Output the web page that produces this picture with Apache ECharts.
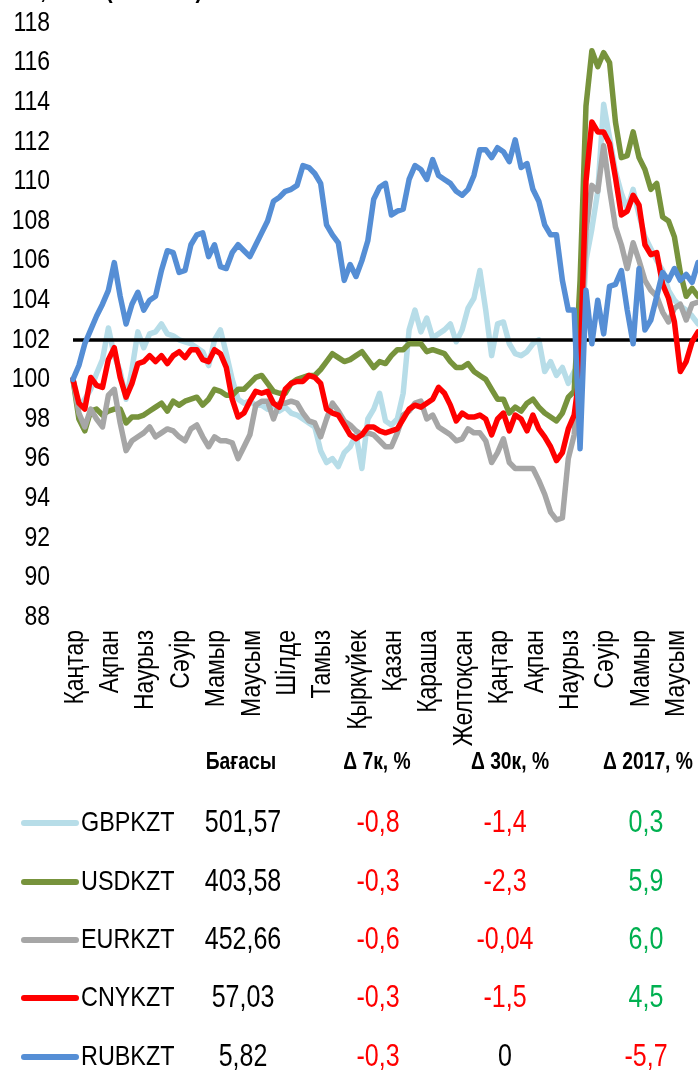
<!DOCTYPE html>
<html><head><meta charset="utf-8">
<script src="https://cdn.jsdelivr.net/npm/echarts@6/dist/echarts.min.js"></script>
<style>html,body{margin:0;padding:0;background:#fff}#c{width:698px;height:1071px}</style>
</head><body><div id="c"></div>
<script>
const monthLabels = ['Қаңтар','Ақпан','Наурыз','Сәуір','Мамыр','Маусым','Шілде','Тамыз','Қыркүйек','Қазан','Қараша','Желтоқсан','Қаңтар','Ақпан','Наурыз','Сәуір','Мамыр','Маусым'];
const yTickValues = [88,90,92,94,96,98,100,102,104,106,108,110,112,114,116,118];
const baseLine = 102;

const GBP = [100.0,98.6,99.0,99.5,100.3,101.0,102.6,101.2,100.4,99.0,100.5,102.4,101.6,102.3,102.4,102.8,102.3,102.2,102.0,101.9,101.8,101.6,101.4,100.7,102.0,102.5,101.3,100.0,99.0,98.8,98.9,98.7,98.7,98.5,98.7,98.4,98.6,98.3,98.2,98.0,97.8,97.6,96.4,95.8,96.0,95.6,96.3,96.6,97.2,95.5,98.0,98.5,99.3,97.9,97.7,98.0,99.3,102.5,103.5,102.4,103.1,102.1,102.3,102.5,102.8,101.9,102.5,103.6,104.1,105.5,103.5,101.2,102.8,102.9,101.8,101.3,101.2,101.4,101.8,102.0,100.4,100.9,100.2,100.6,99.8,100.4,100.8,106.0,107.6,109.5,113.9,112.2,110.5,109.4,108.6,109.6,108.3,107.2,106.6,106.0,105.5,104.5,104.0,103.7,103.5,103.2,102.8];
const USD = [100.0,98.0,97.4,98.4,98.5,98.2,98.4,98.5,98.5,97.8,98.1,98.1,98.2,98.4,98.6,98.8,98.4,98.9,98.7,98.9,99.0,99.1,98.7,99.0,99.5,99.4,99.2,99.2,99.5,99.5,99.8,100.1,100.2,99.8,99.4,99.3,99.3,99.8,100.0,100.1,100.2,100.2,100.5,100.9,101.3,101.1,100.9,101.0,101.2,101.4,101.0,100.6,100.9,100.8,101.2,101.5,101.5,101.8,101.8,101.8,101.4,101.5,101.4,101.3,100.9,100.6,100.6,100.8,100.4,100.2,100.0,99.5,99.0,99.0,98.3,98.6,98.4,98.8,99.0,98.6,98.3,98.1,97.9,98.3,99.1,99.4,105.0,113.8,116.6,115.8,116.5,116.0,113.0,111.2,111.3,112.5,111.2,110.6,109.6,109.9,108.2,108.0,107.2,105.4,104.2,104.6,104.2];
const EUR = [100.0,98.3,97.6,98.5,98.0,97.6,99.2,99.5,97.8,96.4,96.9,97.1,97.3,97.6,97.1,97.3,97.5,97.4,97.1,96.9,97.5,97.7,97.1,96.6,97.1,96.9,96.9,96.8,96.0,96.6,97.2,98.7,98.9,98.9,98.0,98.8,98.8,98.9,98.8,98.3,97.9,97.8,97.1,98.0,98.8,98.4,97.9,97.7,97.4,97.2,97.3,97.2,96.9,96.6,96.6,97.3,98.2,98.4,98.8,98.9,98.0,98.2,97.6,97.4,97.2,96.9,97.0,97.5,97.3,97.3,96.9,95.8,96.3,97.0,95.8,95.5,95.5,95.5,95.5,94.9,94.2,93.3,92.9,93.0,96.0,97.2,100.8,107.5,109.8,109.5,111.8,109.6,107.7,106.8,105.6,106.9,106.0,105.0,104.5,104.2,103.4,102.9,103.6,103.8,103.0,103.8,103.9];
const CNY = [100.0,98.8,98.5,100.1,99.7,99.6,101.0,101.6,100.1,99.1,99.8,100.8,100.9,101.2,100.9,101.2,100.8,101.2,101.4,101.1,101.5,101.5,101.0,100.9,101.5,101.3,100.6,99.0,98.1,98.3,98.9,99.4,99.3,99.4,98.8,98.6,99.5,99.8,99.9,99.9,100.2,100.1,99.8,98.5,98.3,98.2,97.7,97.2,97.0,97.2,97.6,97.6,97.4,97.3,97.4,97.5,98.0,98.5,98.7,98.6,98.8,99.0,99.6,99.3,98.7,97.9,98.3,98.1,98.1,98.2,98.0,97.2,98.0,98.3,97.4,98.2,98.0,97.4,98.2,97.5,97.1,96.6,95.9,96.3,97.5,98.2,100.5,110.0,113.0,112.5,112.5,111.9,110.2,108.3,108.5,109.3,108.8,106.8,106.3,106.4,104.8,104.1,102.9,100.4,100.9,101.9,102.4];
const RUB = [100.0,100.7,101.8,102.5,103.2,103.8,104.5,105.9,104.2,102.8,103.8,104.4,103.5,104.0,104.2,105.5,106.5,106.4,105.4,105.5,106.8,107.3,107.4,106.2,106.8,105.7,105.6,106.4,106.8,106.5,106.2,106.8,107.4,108.0,109.0,109.2,109.5,109.6,109.8,110.8,110.7,110.4,109.9,107.8,107.3,106.9,105.0,105.8,105.2,106.0,107.0,109.1,109.7,109.9,108.3,108.5,108.6,110.1,110.8,110.6,110.1,111.1,110.3,110.1,109.9,109.5,109.3,109.6,110.3,111.6,111.6,111.2,111.7,111.5,111.0,112.1,110.7,110.9,109.6,109.0,107.8,107.3,107.3,105.0,103.5,103.5,96.5,104.5,101.8,104.0,102.3,104.7,104.8,105.5,103.5,101.8,105.6,102.5,103.0,104.2,105.4,105.0,105.6,105.0,105.3,104.9,105.9];

const seriesNames = ['GBPKZT','USDKZT','EURKZT','CNYKZT','RUBKZT'];
const seriesColors = ['#B7DDE8','#77933C','#A6A6A6','#FF0000','#558ED5'];
const prices = ['501,57','403,58','452,66','57,03','5,82'];
const d7 = ['-0,8','-0,3','-0,6','-0,3','-0,3'];
const d30 = ['-1,4','-2,3','-0,04','-1,5','0'];
const dYtd = ['0,3','5,9','6,0','4,5','-5,7'];
const headers = ['Бағасы','Δ 7к, %','Δ 30к, %','Δ 2017, %'];
const titleText = 'Δ %, база (01.01.16)';

const FONT = "'Liberation Sans',Arial,sans-serif";
const NARROW = 0.82;
const seriesData = [GBP, USD, EUR, CNY, RUB];
const categories = GBP.map((_, i) => String(i));

function valColor(s) {
  const v = parseFloat(s.replace(',', '.'));
  if (v < 0) return '#FF0000';
  if (v > 0) return '#00B050';
  return '#000000';
}

const chart = echarts.init(document.getElementById('c'), null, {renderer: 'canvas'});

const series = seriesData.map((d, k) => {
  const s = {
    name: seriesNames[k], type: 'line', data: d, showSymbol: false, symbol: 'none',
    lineStyle: {color: seriesColors[k], width: 5.5, cap: 'round', join: 'round'},
    itemStyle: {color: seriesColors[k]},
    z: k === 0 ? 2 : 4, animation: false, silent: true
  };
  if (k === 0) {
    s.markLine = {
      z: 3, silent: true, symbol: 'none', animation: false,
      label: {show: false},
      lineStyle: {color: '#000', width: 3.5, type: 'solid'},
      data: [{yAxis: baseLine}]
    };
  }
  return s;
});

chart.setOption({
  animation: false,
  backgroundColor: '#fff',
  grid: {left: 73, right: 0, top: 23, bottom: 454, containLabel: false},
  xAxis: {
    type: 'category', data: categories, boundaryGap: false,
    axisLine: {show: false}, axisTick: {show: false}, splitLine: {show: false},
    axisLabel: {show: false}
  },
  yAxis: {
    type: 'value', min: yTickValues[0], max: yTickValues[yTickValues.length - 1], interval: 2,
    axisLine: {show: false}, axisTick: {show: false}, splitLine: {show: false},
    axisLabel: {show: false}
  },
  series: series
});

function narrowText(x, y, text, size, opts) {
  opts = opts || {};
  return {
    type: 'text', x: x, y: y, scaleX: NARROW, rotation: opts.rotation || 0, silent: true,
    style: {
      text: text, font: (opts.bold ? 'bold ' : '') + size + 'px ' + FONT,
      fill: opts.color || '#000', align: opts.align || 'left', verticalAlign: opts.vAlign || 'middle'
    }
  };
}

const graphics = [];
graphics.push(narrowText(0, 4, titleText, 26, {bold: true, vAlign: 'bottom'}));

// y-axis tick labels, placed via the axis scale
yTickValues.forEach(v => {
  const py = chart.convertToPixel({yAxisIndex: 0}, v);
  graphics.push(narrowText(50, py, String(v), 28, {align: 'right'}));
});
// x-axis month labels, one per month (every 6th category), placed via the axis scale
const yBottom = chart.convertToPixel({yAxisIndex: 0}, yTickValues[0]);
monthLabels.forEach((m, j) => {
  const px = chart.convertToPixel({xAxisIndex: 0}, String(j * 6));
  graphics.push(narrowText(px + 2, yBottom + 13, m, 28, {align: 'right', rotation: Math.PI / 2}));
});

const headerX = [241, 377, 510, 648];
headers.forEach((h, j) => {
  graphics.push(narrowText(headerX[j], 763, h, 23.5, {bold: true, align: 'center'}));
});
const rowY = [823, 882, 940, 998, 1057];
seriesNames.forEach((n, k) => {
  const y = rowY[k];
  graphics.push({type: 'line', silent: true, shape: {x1: 24, y1: y, x2: 76, y2: y}, style: {stroke: seriesColors[k], lineWidth: 6, lineCap: 'round'}});
  graphics.push(narrowText(81, y, n, 28.5));
  graphics.push(narrowText(243, y + 1, prices[k], 30.5, {align: 'center'}));
  graphics.push(narrowText(378, y + 1, d7[k], 30.5, {align: 'center', color: valColor(d7[k])}));
  graphics.push(narrowText(505, y + 1, d30[k], 30.5, {align: 'center', color: valColor(d30[k])}));
  graphics.push(narrowText(646, y + 1, dYtd[k], 30.5, {align: 'center', color: valColor(dYtd[k])}));
});

chart.setOption({graphic: graphics});
</script></body></html>
